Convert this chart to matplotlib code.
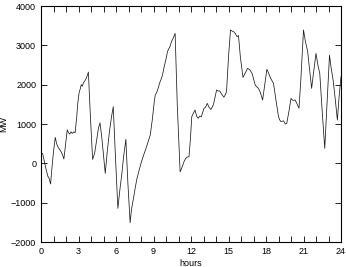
import matplotlib
matplotlib.use("Agg")
import matplotlib.pyplot as plt
from matplotlib.ticker import MultipleLocator

hours = [0.00, 0.05, 0.13, 0.25, 0.42, 0.55, 0.65, 0.77, 0.85, 1.00, 1.14, 1.25, 1.35, 1.48, 1.60,
         1.72, 1.83, 1.95, 2.10, 2.20, 2.30, 2.40, 2.50, 2.62, 2.73, 2.85, 2.94, 3.05, 3.15, 3.22,
         3.30, 3.40, 3.47, 3.60, 3.70, 3.79, 3.95, 4.13, 4.29, 4.47, 4.60, 4.72, 4.85, 5.00, 5.14,
         5.30, 5.49, 5.65, 5.78, 5.95, 6.15, 6.30, 6.47, 6.62, 6.79, 6.95, 7.13, 7.25, 7.42, 7.55,
         7.68, 7.85, 8.00, 8.20, 8.40, 8.58, 8.74, 8.90, 9.06, 9.14, 9.25, 9.33, 9.50, 9.62, 9.72,
         9.85, 10.00, 10.12, 10.20, 10.31, 10.45, 10.60, 10.73, 10.90, 11.13, 11.22, 11.30, 11.45,
         11.58, 11.70, 11.84, 11.95, 12.06, 12.15, 12.32, 12.45, 12.58, 12.70, 12.82, 13.04, 13.15,
         13.30, 13.45, 13.60, 13.80, 14.05, 14.15, 14.30, 14.45, 14.63, 14.75, 14.84, 15.00, 15.16,
         15.30, 15.42, 15.55, 15.68, 15.80, 15.95, 16.16, 16.35, 16.53, 16.70, 16.88, 17.00, 17.14,
         17.25, 17.40, 17.55, 17.73, 17.90, 18.07, 18.20, 18.32, 18.42, 18.60, 18.80, 19.00, 19.10,
         19.20, 19.40, 19.55, 19.66, 19.85, 20.00, 20.15, 20.33, 20.50, 20.64, 20.80, 21.00, 21.15,
         21.33, 21.50, 21.65, 21.80, 22.00, 22.15, 22.30, 22.50, 22.70, 22.90, 23.08, 23.20, 23.37,
         23.55, 23.71, 23.85, 24.00]
mw = [-420, 250, 250, 80, -170, -330, -380, -525, -200, 300, 660, 500, 420, 360, 300,
      220, 110, 450, 850, 780, 745, 800, 760, 800, 780, 1150, 1525, 1800, 1905, 2000,
      1960, 2050, 2075, 2150, 2230, 2320, 1200, 100, 255, 635, 900, 1030, 700, 200, -255,
      300, 845, 1200, 1440, 200, -1145, -700, -255, 200, 610, -500, -1510, -1150, -850, -600,
      -380, -180, 0, 200, 380, 560, 720, 1100, 1565, 1735, 1800, 1865, 2050, 2150, 2245,
      2450, 2650, 2840, 2900, 2965, 3100, 3200, 3305, 1500, -215, -150, -85, 50,
      125, 160, 170, 600, 1185, 1250, 1355, 1200, 1145, 1200, 1180, 1400, 1420,
      1525, 1420, 1370, 1500, 1865, 1840, 1840, 1760, 1680, 1750, 1820, 2700, 3390,
      3360, 3345, 3300, 3220, 3250, 2700, 2185, 2300, 2415, 2380, 2290, 2150, 1990,
      1950, 1905, 1800, 1610, 2000, 2390, 2300, 2200, 2135, 2035, 1600, 1185, 1100,
      1060, 1080, 1000, 1015, 1350, 1650, 1600, 1610, 1500, 1400, 2200, 3390, 3100,
      2850, 2350, 1905, 2300, 2795, 2500, 2290, 1300, 380, 1600, 2750, 2450, 2115,
      1600, 1100, 1700, 2200]

xticks = [0, 3, 6, 9, 12, 15, 18, 21, 24]
yticks = [-2000, -1000, 0, 1000, 2000, 3000, 4000]

plt.rcParams['font.family'] = ['Liberation Sans', 'DejaVu Sans']
fig = plt.figure(figsize=(3.46, 2.67), dpi=100)
ax = fig.add_axes([41 / 346, 25 / 267, 300 / 346, 236 / 267])
ax.plot(hours, mw, color='#1a1a1a', linewidth=0.55)
ax.set_xlim(0, 24)
ax.set_ylim(-2000, 4000)
ax.set_xticks(xticks)
ax.set_yticks(yticks)
ax.xaxis.set_minor_locator(MultipleLocator(1))
ax.tick_params(which='both', direction='in', top=True, right=True, labelsize=6.5, width=0.6)
ax.tick_params(which='major', length=4)
ax.tick_params(which='minor', length=4)
for s in ax.spines.values():
    s.set_linewidth(0.8)
ax.set_xlabel('hours', fontsize=6.5, labelpad=2)
ax.set_ylabel('MW', fontsize=6.5, labelpad=2)
fig.savefig('out.png', dpi=100)
